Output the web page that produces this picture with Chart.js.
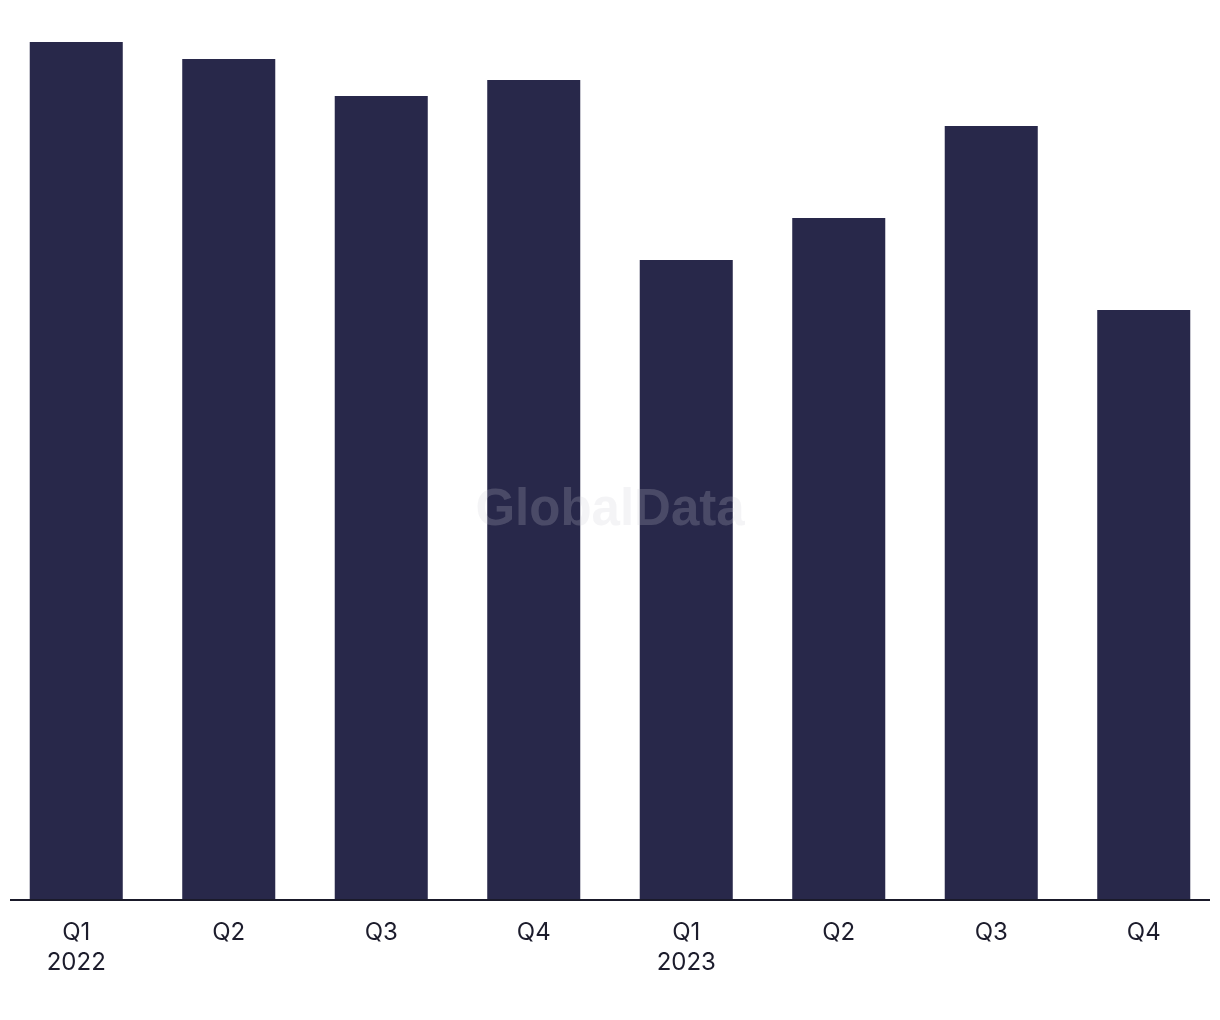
<!DOCTYPE html>
<html lang="en">
  <head>
    <meta charset="utf-8" />
    <title>Quarterly chart</title>
    <style>
      html, body { margin: 0; padding: 0; background: #ffffff; }
      #wrap { width: 1220px; height: 1020px; position: relative; }
    </style>
    <script src="https://cdn.jsdelivr.net/npm/chart.js"></script>
  </head>
  <body>
    <div id="wrap">
      <canvas id="barChart" width="1220" height="1020"></canvas>
    </div>
    <script>
      // values (arbitrary units, no y axis shown)
      const quarters = [['Q1', '2022'], 'Q2', 'Q3', 'Q4', ['Q1', '2023'], 'Q2', 'Q3', 'Q4'];
      const values = [85.8, 84.1, 80.4, 82.0, 64.0, 68.2, 77.4, 59.0];
      const yMax = 90;

      const barColor = '#28284a';
      const textColor = '#1c1c2c';

      const watermark = {
        id: 'watermark',
        afterDatasetsDraw(chart) {
          const ctx = chart.ctx;
          ctx.save();
          ctx.font = 'bold 51px "Liberation Sans", Arial, sans-serif';
          ctx.fillStyle = 'rgba(203, 203, 212, 0.21)';
          ctx.textAlign = 'center';
          ctx.textBaseline = 'middle';
          ctx.fillText('GlobalData', 610, 511);
          ctx.restore();
        }
      };

      const baseline = {
        id: 'baseline',
        afterDatasetsDraw(chart) {
          const ctx = chart.ctx;
          const y = chart.scales.y.getPixelForValue(0);
          ctx.save();
          ctx.strokeStyle = '#1a1a2a';
          ctx.lineWidth = 2;
          ctx.beginPath();
          ctx.moveTo(10, y);
          ctx.lineTo(1210, y);
          ctx.stroke();
          ctx.restore();
        }
      };

      const ctx = document.getElementById('barChart').getContext('2d');
      new Chart(ctx, {
        type: 'bar',
        data: {
          labels: quarters,
          datasets: [{
            data: values,
            backgroundColor: barColor,
            borderWidth: 0,
            barPercentage: 0.61,
            categoryPercentage: 1.0
          }]
        },
        options: {
          responsive: false,
          animation: false,
          layout: { padding: { top: 0, left: 0, right: 0, bottom: 0 } },
          plugins: {
            legend: { display: false },
            tooltip: { enabled: false }
          },
          scales: {
            x: {
              grid: { display: false },
              border: { display: false },
              ticks: {
                color: textColor,
                font: { family: 'Inter, "Liberation Sans", sans-serif', size: 24, lineHeight: 1.25 },
                padding: 10,
                maxRotation: 0,
                autoSkip: false
              },
              afterFit(scale) { scale.height = 120; }
            },
            y: {
              display: false,
              min: 0,
              max: yMax
            }
          }
        },
        plugins: [baseline, watermark]
      });
    </script>
  </body>
</html>
